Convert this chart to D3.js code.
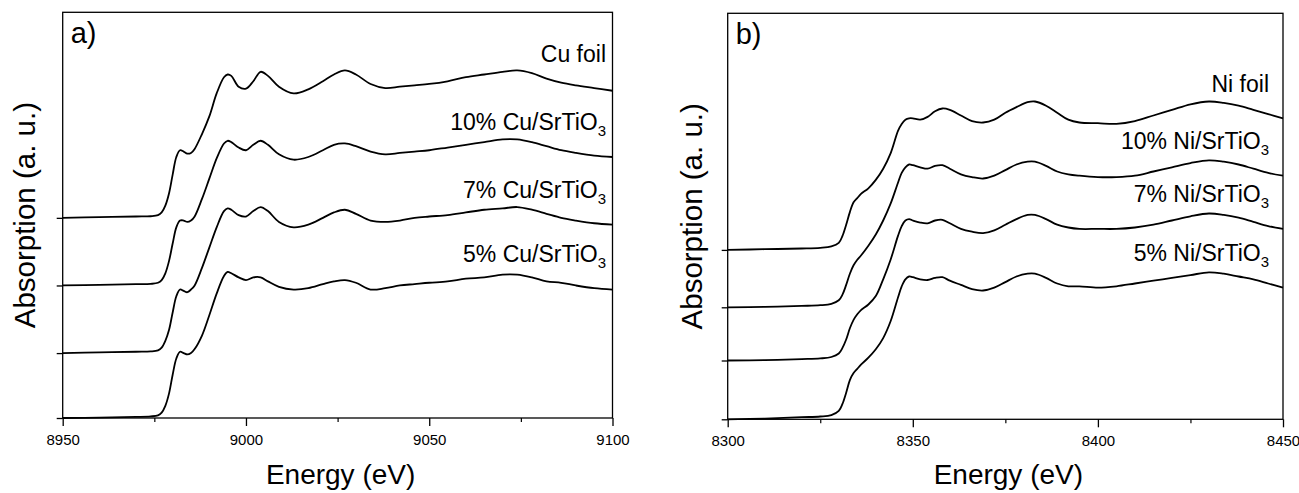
<!DOCTYPE html>
<html>
<head>
<meta charset="utf-8">
<script src="https://cdn.jsdelivr.net/npm/d3@7"></script>
<style>
  html, body { margin: 0; padding: 0; background: #fff; }
  svg { display: block; }
  text { font-family: "Liberation Sans", Arial, sans-serif; fill: #000; }
</style>
</head>
<body>
<svg id="chart" width="1299" height="493"></svg>
<script>
// ---------------- DATA ----------------
// Panel a) Cu K-edge
const cuEnergy = [8950, 8960, 8970, 8974, 8976, 8977, 8978, 8979, 8980, 8981, 8982, 8983, 8984, 8985, 8986, 8988, 8990, 8992, 8994, 8995, 8996, 8998, 9000, 9002, 9004, 9006, 9009, 9013, 9017, 9021, 9024, 9027, 9030, 9034, 9038, 9042, 9046, 9050, 9055, 9060, 9065, 9070, 9074, 9078, 9082, 9086, 9090, 9095, 9100];
const cuFoil = [0.0, 0.005, 0.01, 0.012, 0.02, 0.04, 0.09, 0.18, 0.32, 0.45, 0.50, 0.49, 0.475, 0.48, 0.51, 0.62, 0.75, 0.92, 1.04, 1.06, 1.05, 0.97, 0.955, 1.01, 1.08, 1.05, 0.97, 0.92, 0.95, 1.01, 1.06, 1.09, 1.06, 0.99, 0.96, 0.97, 0.98, 0.99, 1.01, 1.04, 1.06, 1.08, 1.09, 1.07, 1.03, 1.00, 0.98, 0.96, 0.94];
const cu10 = [0.0, 0.005, 0.01, 0.012, 0.02, 0.04, 0.09, 0.18, 0.31, 0.43, 0.48, 0.48, 0.47, 0.48, 0.51, 0.64, 0.79, 0.94, 1.05, 1.07, 1.06, 1.02, 1.00, 1.04, 1.07, 1.04, 0.97, 0.93, 0.95, 1.00, 1.04, 1.05, 1.03, 0.99, 0.97, 0.98, 0.99, 1.00, 1.02, 1.04, 1.06, 1.08, 1.08, 1.06, 1.03, 1.00, 0.98, 0.96, 0.95];
const cu7 = [0.0, 0.005, 0.01, 0.012, 0.02, 0.04, 0.09, 0.17, 0.30, 0.42, 0.47, 0.46, 0.45, 0.47, 0.50, 0.63, 0.78, 0.93, 1.05, 1.07, 1.06, 1.02, 1.01, 1.05, 1.08, 1.05, 0.97, 0.93, 0.95, 1.00, 1.04, 1.06, 1.03, 0.98, 0.97, 0.98, 1.00, 1.01, 1.02, 1.04, 1.06, 1.07, 1.08, 1.06, 1.03, 1.00, 0.98, 0.96, 0.95];
const cu5 = [0.0, 0.003, 0.008, 0.012, 0.02, 0.04, 0.09, 0.18, 0.32, 0.44, 0.49, 0.48, 0.47, 0.48, 0.51, 0.61, 0.76, 0.92, 1.05, 1.08, 1.07, 1.04, 1.02, 1.04, 1.04, 1.01, 0.97, 0.95, 0.96, 0.99, 1.01, 1.02, 1.00, 0.95, 0.96, 0.98, 0.99, 1.00, 1.01, 1.03, 1.04, 1.06, 1.06, 1.04, 1.01, 1.00, 0.98, 0.96, 0.95];
const cuOffsets = [1.48, 0.98, 0.48, 0];
const cuLabels = ["Cu foil", "10% Cu/SrTiO|3", "7% Cu/SrTiO|3", "5% Cu/SrTiO|3"];
const cuTicks = [8950, 9000, 9050, 9100];
const cuMinorTicks = [8975, 9025, 9075];

// Panel b) Ni K-edge
const niEnergy = [8300, 8310, 8320, 8325, 8328, 8330, 8331, 8332, 8333, 8334, 8335, 8336, 8338, 8340, 8342, 8344, 8346, 8347, 8348, 8349, 8350, 8352, 8354, 8356, 8358, 8360, 8363, 8366, 8369, 8372, 8375, 8378, 8381, 8383, 8386, 8389, 8392, 8395, 8400, 8405, 8410, 8415, 8420, 8425, 8430, 8434, 8438, 8442, 8446, 8450];
const niFoil = [0.0, 0.005, 0.01, 0.015, 0.025, 0.05, 0.10, 0.18, 0.27, 0.34, 0.37, 0.40, 0.44, 0.50, 0.58, 0.69, 0.85, 0.90, 0.93, 0.94, 0.94, 0.93, 0.95, 0.99, 1.01, 1.00, 0.96, 0.92, 0.91, 0.93, 0.98, 1.02, 1.055, 1.06, 1.03, 0.98, 0.93, 0.91, 0.905, 0.90, 0.92, 0.96, 1.00, 1.04, 1.06, 1.05, 1.03, 1.00, 0.97, 0.94];
const ni10 = [0.0, 0.003, 0.01, 0.015, 0.025, 0.05, 0.09, 0.16, 0.24, 0.30, 0.34, 0.37, 0.44, 0.52, 0.62, 0.74, 0.89, 0.96, 1.00, 1.02, 1.015, 1.00, 0.99, 1.01, 1.015, 0.99, 0.95, 0.93, 0.92, 0.94, 0.98, 1.02, 1.04, 1.04, 1.01, 0.97, 0.95, 0.94, 0.93, 0.93, 0.94, 0.97, 1.00, 1.03, 1.05, 1.04, 1.02, 0.99, 0.96, 0.94];
const ni7 = [0.0, 0.003, 0.01, 0.015, 0.025, 0.05, 0.09, 0.15, 0.23, 0.29, 0.33, 0.36, 0.40, 0.46, 0.58, 0.72, 0.89, 0.96, 1.00, 1.01, 1.00, 0.985, 0.98, 1.00, 1.005, 0.98, 0.94, 0.92, 0.91, 0.93, 0.97, 1.01, 1.04, 1.04, 1.01, 0.97, 0.95, 0.94, 0.94, 0.94, 0.95, 0.97, 1.00, 1.03, 1.05, 1.04, 1.02, 0.99, 0.96, 0.94];
const ni5 = [0.0, 0.005, 0.015, 0.02, 0.03, 0.06, 0.11, 0.19, 0.28, 0.33, 0.36, 0.39, 0.44, 0.50, 0.58, 0.70, 0.87, 0.95, 1.00, 1.02, 1.015, 1.00, 0.995, 1.01, 1.015, 0.99, 0.96, 0.93, 0.92, 0.94, 0.98, 1.02, 1.04, 1.04, 1.01, 0.97, 0.95, 0.95, 0.94, 0.95, 0.97, 0.99, 1.01, 1.03, 1.05, 1.04, 1.02, 1.00, 0.97, 0.94];
const niOffsets = [1.21, 0.80, 0.42, 0];
const niLabels = ["Ni foil", "10% Ni/SrTiO|3", "7% Ni/SrTiO|3", "5% Ni/SrTiO|3"];
const niTicks = [8300, 8350, 8400, 8450];
const niMinorTicks = [8325, 8375, 8425];

// ---------------- DRAW ----------------
const svg = d3.select("#chart");

const panels = [
  { tag: "a)", energy: cuEnergy, series: [cuFoil, cu10, cu7, cu5], offsets: cuOffsets, labels: cuLabels,
    ticks: cuTicks, minor: cuMinorTicks, yMax: 3.0, lift: 1.15,
    left: 62.7, right: 612.5, top: 12.3, bottom: 418, titleX: 35, labelX: 606 },
  { tag: "b)", energy: niEnergy, series: [niFoil, ni10, ni7, ni5], offsets: niOffsets, labels: niLabels,
    ticks: niTicks, minor: niMinorTicks, yMax: 2.9, lift: 1.13,
    left: 727.7, right: 1283, top: 13.3, bottom: 419.3, titleX: 702, labelX: 1269 }
];

panels.forEach(p => {
  const x = d3.scaleLinear().domain([p.ticks[0], p.ticks[p.ticks.length - 1]]).range([p.left, p.right]);
  const y = d3.scaleLinear().domain([0, p.yMax]).range([p.bottom, p.top]);
  const g = svg.append("g");

  // minor x ticks
  g.append("g").attr("transform", `translate(0,${p.bottom})`)
    .call(d3.axisBottom(x).tickValues(p.minor).tickSize(4).tickFormat(""))
    .call(a => a.select(".domain").remove())
    .call(a => a.selectAll("line").attr("stroke", "#000").attr("stroke-width", 1.2));

  // major x ticks
  g.append("g").attr("transform", `translate(0,${p.bottom})`)
    .call(d3.axisBottom(x).tickValues(p.ticks).tickSize(8).tickPadding(8).tickFormat(d3.format("d")))
    .call(a => a.select(".domain").remove())
    .call(a => a.selectAll("line").attr("stroke", "#000").attr("stroke-width", 1.3))
    .call(a => a.selectAll("text").attr("font-size", "15px").attr("font-family", "Liberation Sans, Arial, sans-serif").attr("fill", "#000"));

  // y ticks at curve baselines
  g.append("g").attr("transform", `translate(${p.left},0)`)
    .call(d3.axisLeft(y).tickValues(p.offsets).tickSize(6).tickFormat(""))
    .call(a => a.select(".domain").remove())
    .call(a => a.selectAll("line").attr("stroke", "#000").attr("stroke-width", 1.3));

  // curves
  const line = d3.line()
    .x((d, i) => x(p.energy[i]))
    .curve(d3.curveCatmullRom.alpha(0.5));
  p.series.forEach((s, k) => {
    line.y(d => y(d + p.offsets[k]));
    g.append("path").datum(s)
      .attr("d", line)
      .attr("fill", "none")
      .attr("stroke", "#000")
      .attr("stroke-width", 1.8)
      .attr("stroke-linejoin", "round");
  });

  // frame
  g.append("rect")
    .attr("x", p.left).attr("y", p.top)
    .attr("width", p.right - p.left).attr("height", p.bottom - p.top)
    .attr("fill", "none").attr("stroke", "#000").attr("stroke-width", 1.3);

  // curve labels
  p.labels.forEach((lab, k) => {
    const parts = lab.split("|");
    const t = g.append("text")
      .attr("x", p.labelX)
      .attr("y", y(p.offsets[k] + p.lift))
      .attr("text-anchor", "end")
      .attr("font-size", "23px");
    t.append("tspan").text(parts[0]);
    if (parts[1]) {
      t.append("tspan").attr("font-size", "15px").attr("dy", 6).text(parts[1]);
    }
  });

  // panel tag
  g.append("text").attr("x", p.left + 8).attr("y", p.top + 31)
    .attr("font-size", "29px").text(p.tag);

  // axis titles
  g.append("text")
    .attr("x", (p.left + p.right) / 2 + 3).attr("y", 484)
    .attr("text-anchor", "middle").attr("font-size", "28px")
    .text("Energy (eV)");
  g.append("text")
    .attr("transform", `translate(${p.titleX},${(p.top + p.bottom) / 2}) rotate(-90)`)
    .attr("text-anchor", "middle").attr("font-size", "29.5px")
    .text("Absorption (a. u.)");
});
</script>
</body>
</html>
